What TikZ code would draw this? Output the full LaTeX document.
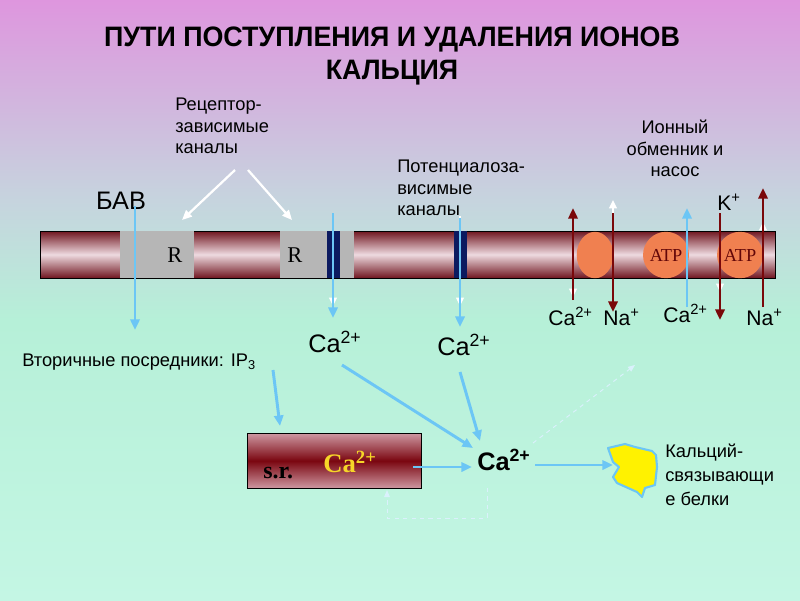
\documentclass[tikz,border=0pt]{standalone}
\usepackage{fontspec}
\setmainfont{Liberation Sans}
\newfontfamily\timesfont{Liberation Serif}
\newfontfamily\titlefont[FakeStretch=0.955]{Liberation Sans}
\usetikzlibrary{arrows.meta,shapes.geometric,positioning}

\definecolor{bgtop}{RGB}{222,150,222}
\definecolor{bgmid}{RGB}{198,212,222}
\definecolor{bgmint}{RGB}{182,240,216}
\definecolor{bgbot}{RGB}{196,246,228}
\definecolor{ionblue}{RGB}{108,198,245}
\definecolor{pumpred}{RGB}{122,8,10}
\definecolor{chanblue}{RGB}{12,26,96}
\definecolor{pumporange}{RGB}{240,128,80}
\definecolor{membdark}{RGB}{112,22,32}
\definecolor{memblight}{RGB}{238,218,224}
\definecolor{membgrey}{RGB}{182,182,182}
\definecolor{srdark}{RGB}{122,6,16}
\definecolor{srlight}{RGB}{206,152,162}
\definecolor{srgold}{RGB}{246,214,40}

\begin{document}
\begin{tikzpicture}[
    x = 0.025cm, y = -0.025cm,
    ion/.style = {ionblue, line width = 2.1pt, -{Triangle[length = 7.5pt, width = 6.5pt]}},
    pump/.style = {pumpred, line width = 2.1pt, -{Triangle[length = 7.5pt, width = 6.5pt]}},
    ghost/.style = {white, line width = 1.5pt, -{Triangle[length = 6pt, width = 5.5pt]}},
    pointer/.style = {white, line width = 1.6pt, -{Triangle[length = 7pt, width = 6pt]}},
    hint/.style = {white!75!ionblue, dashed, line width = 0.7pt, -{Triangle[length = 5pt, width = 4pt]}},
    tag/.style = {font = \fontsize{13}{15.3}\selectfont, inner sep = 0pt, align = left},
    ion tag/.style = {font = \fontsize{15}{18}\selectfont, inner sep = 0pt, anchor = base west},
    big ion/.style = {font = \fontsize{18}{21}\selectfont, inner sep = 0pt, anchor = base west},
    serif mark/.style = {font = \timesfont\fontsize{16}{18}\selectfont, inner sep = 0pt, anchor = base west},
    site/.style = {ellipse, fill = pumporange, inner sep = 0pt, minimum width = 26pt,
        minimum height = 33pt, text = pumpred!80!black, font = \timesfont\fontsize{13}{15}\selectfont}
]

% background
\useasboundingbox (0,0) rectangle (800,600);
\shade[top color = bgtop, bottom color = bgmid] (0,0) rectangle (800,200);
\shade[top color = bgmid, bottom color = bgmint] (0,200) rectangle (800,320);
\shade[top color = bgmint, bottom color = bgbot] (0,320) rectangle (800,600);

\node[font = \titlefont\bfseries\fontsize{20}{22.8}\selectfont, align = center] (title) at (392,56)
    {ПУТИ ПОСТУПЛЕНИЯ И УДАЛЕНИЯ ИОНОВ\\КАЛЬЦИЯ};

% membrane
\shade[top color = membdark, bottom color = membdark, middle color = memblight, draw = black]
    (40,231) rectangle (775,278);
\fill[membgrey] (120,231) rectangle (194,278);
\fill[membgrey] (280,231) rectangle (354,278);
\fill[chanblue] (327,231) rectangle (340,278);
\fill[chanblue] (454,231) rectangle (467,278);
\node[serif mark] (r1) at (167,262) {R};
\node[serif mark] (r2) at (287,262) {R};
\node[site] (exch) at (595,255) {};
\node[site] (atp1) at (666,255) {ATP};
\node[site] (atp2) at (740,255) {ATP};

% labels
\node[tag, anchor = north west] (receptor) at (175,98) {Рецептор-\\зависимые\\каналы};
\node[tag, anchor = north west] (voltage) at (397,160) {Потенциалоза-\\висимые\\каналы};
\node[tag, anchor = north, align = center] (exchanger) at (675,120) {Ионный\\обменник и\\насос};
\node[font = \fontsize{18}{21}\selectfont, inner sep = 0pt] (bav) at (121,201) {БАВ};
\node[tag, anchor = base west] (ip3) at (22,366) {Вторичные  посредники: IP\textsubscript{3}};
\node[big ion] (cachan) at (308,352) {Ca\textsuperscript{2+}};
\node[big ion] (cavolt) at (437,355) {Ca\textsuperscript{2+}};
\node[ion tag] (caex) at (548,325) {Ca\textsuperscript{2+}};
\node[ion tag] (naex) at (603,325) {Na\textsuperscript{+}};
\node[ion tag] (capump) at (663,322) {Ca\textsuperscript{2+}};
\node[ion tag] (kpump) at (717,210) {K\textsuperscript{+}};
\node[ion tag] (napump) at (746,325) {Na\textsuperscript{+}};
\node[big ion, font = \bfseries\fontsize{18}{21}\selectfont] (cafree) at (477,470) {Ca\textsuperscript{2+}};
\node[tag, anchor = north west, font = \fontsize{13}{16.8}\selectfont] (binding) at (665,444)
    {Кальций-\\связывающи\\е белки};

% sarcoplasmic reticulum
\node[draw = black, top color = srlight, bottom color = srlight, middle color = srdark,
    minimum width = 123.8pt, minimum height = 39.1pt, anchor = north west] (sr) at (247,433) {};
\node[serif mark, font = \timesfont\bfseries\fontsize{17}{20}\selectfont] (srname) at (263,478) {s.r.};
\node[serif mark, font = \timesfont\bfseries\fontsize{19}{22}\selectfont, text = srgold] (srca) at (323,472)
    {Ca\textsuperscript{2+}};

% binding protein
\filldraw[fill = yellow, draw = ionblue, line width = 1.5pt, line join = round]
    (608,448) -- (625,444) -- (635,447) -- (652,451) -- (656,455) -- (657,467) -- (655,485)
    -- (645,488) -- (642,497) -- (637,492) -- (617,483) -- (613,477) -- (619,467)
    -- (613,462) -- cycle;

% arrow ends
\coordinate (ptrA) at (235,170);   \coordinate (ptrAend) at (182,220);
\coordinate (ptrB) at (248,170);   \coordinate (ptrBend) at (292,220);
\coordinate (bavtop) at (135,206); \coordinate (bavend) at (135,330);
\coordinate (chtop) at (333,213);  \coordinate (chend) at (333,318);
\coordinate (vtop) at (460,218);   \coordinate (vend) at (460,327);
\coordinate (ip3out) at (273,370); \coordinate (srin) at (280,426);
\coordinate (chout) at (342,365);  \coordinate (freeA) at (473,448);
\coordinate (vout) at (460,372);   \coordinate (freeB) at (480,441);
\coordinate (srout) at (413,467);  \coordinate (freeC) at (472,467);
\coordinate (freeout) at (535,465); \coordinate (protein) at (613,465);
\coordinate (leak) at (533,443);   \coordinate (leakend) at (635,365);
\coordinate (loopA) at (487,488);  \coordinate (loopB) at (387,518);
\coordinate (loopend) at (387,490);

% white pointers and ghosts
\draw[pointer] (ptrA) -- (ptrAend);
\draw[pointer] (ptrB) -- (ptrBend);
\draw[ghost] (333,216) -- (333,306);
\draw[ghost] (460,216) -- (460,306);
\draw[ghost] (573,222) -- (573,297);
\draw[ghost] (613,292) -- (613,200);
\draw[ghost] (720,222) -- (720,292);
\draw[ghost] (763,292) -- (763,222);

% entry
\draw[ion] (bavtop) -- (bavend);
\draw[ion] (chtop) -- (chend);
\draw[ion] (vtop) -- (vend);

% pumps
\draw[pump] (573,300) -- (573,208);
\draw[pump] (613,213) -- (613,312);
\draw[ion] (687,307) -- (687,208);
\draw[pump] (720,213) -- (720,320);
\draw[pump] (763,307) -- (763,188);

% cytoplasm
\draw[ion] (ip3out) -- (srin);
\draw[ion] (chout) -- (freeA);
\draw[ion] (vout) -- (freeB);
\draw[ion] (srout) -- (freeC);
\draw[ion] (freeout) -- (protein);
\draw[hint] (leak) -- (leakend);
\draw[hint] (loopA) -- (loopA |- loopB) -- (loopB) -- (loopend);
\end{tikzpicture}
\end{document}
